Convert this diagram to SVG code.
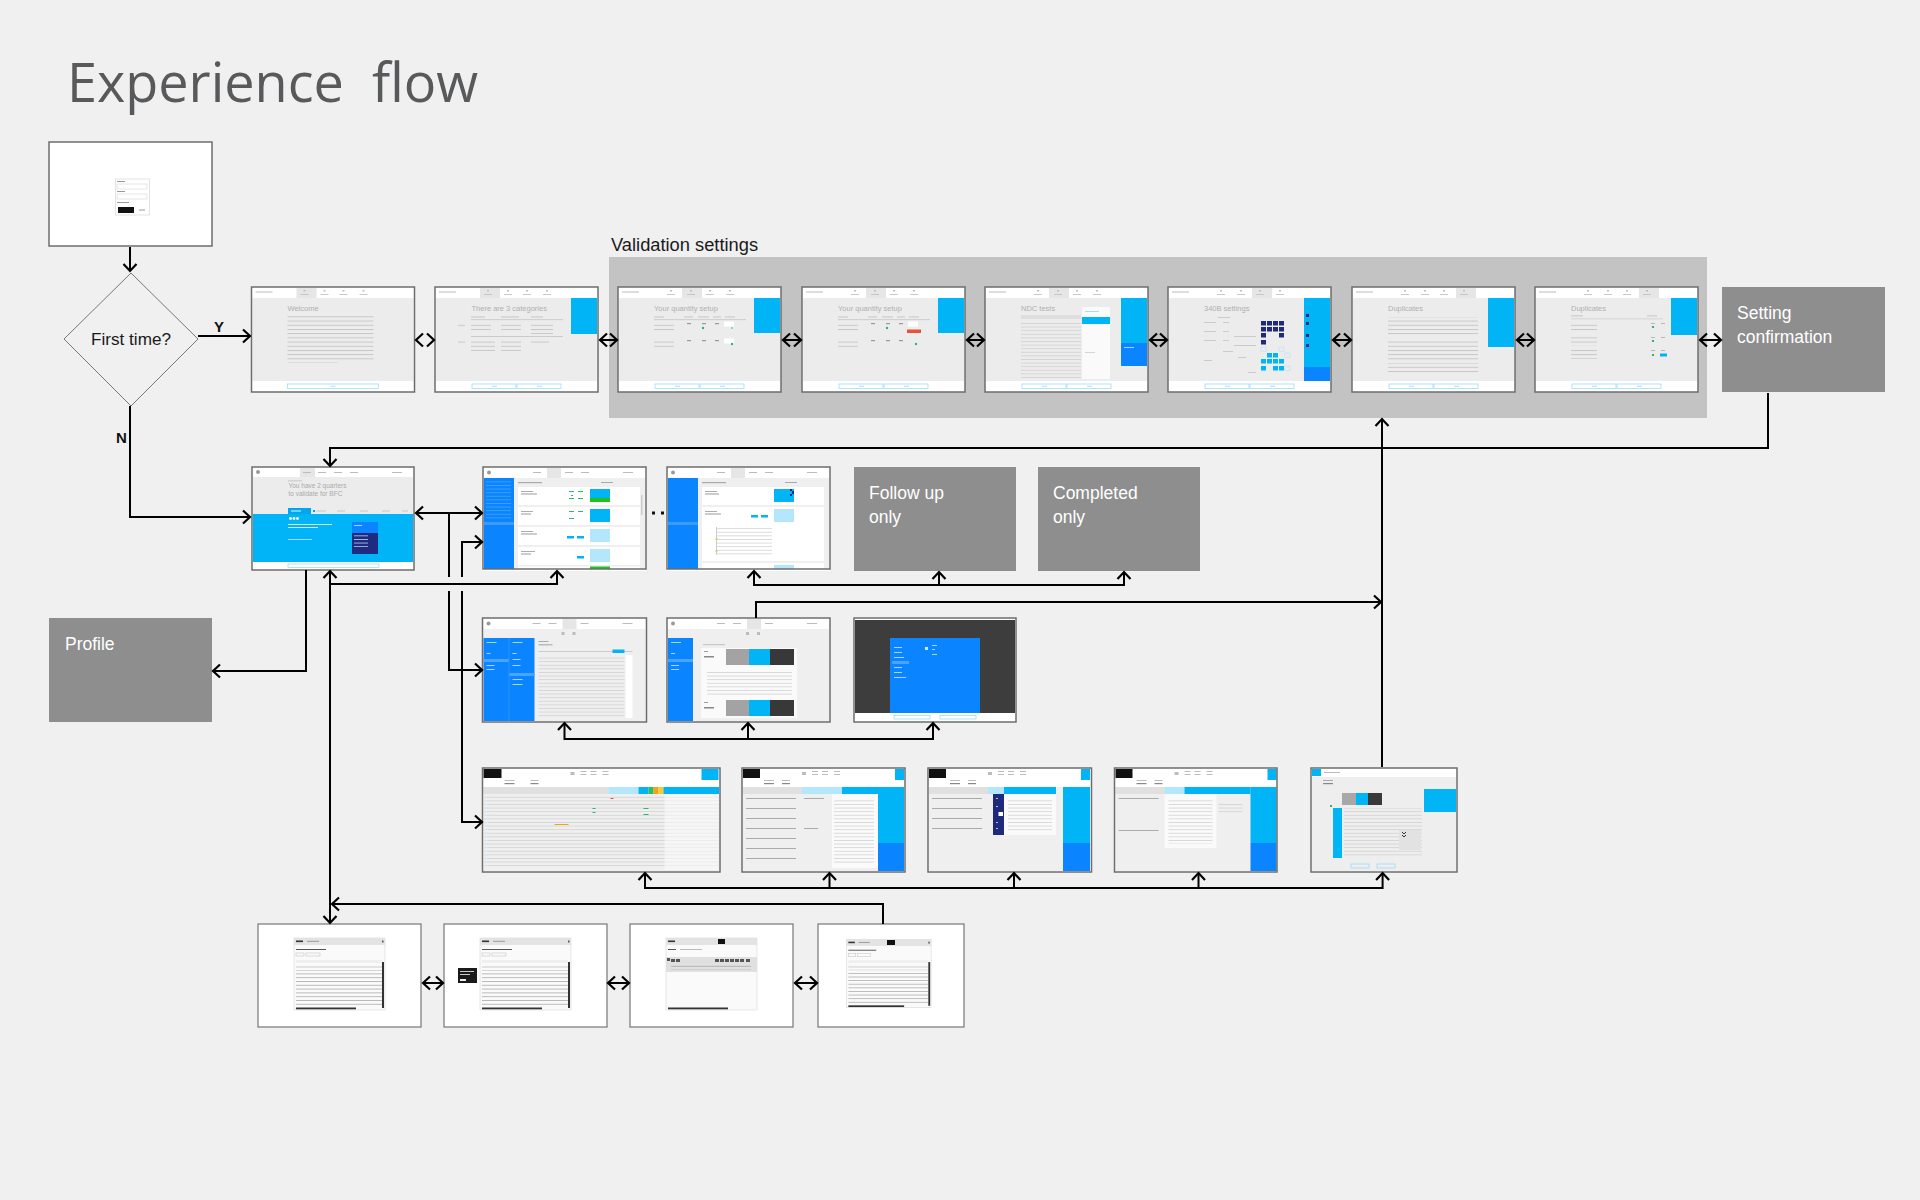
<svg xmlns="http://www.w3.org/2000/svg" xmlns:xlink="http://www.w3.org/1999/xlink" width="1920" height="1200" viewBox="0 0 1920 1200">
<style>
.fr{fill:none;stroke:#6d6d6d;stroke-width:1.5}
.wh{fill:#fff}
.bd{fill:#ececec}
.cy{fill:#00b4f5}
.bl{fill:#0a84ff}
.nv{fill:#1f2a7c}
.lc{fill:#b4e7fb}
.gr{fill:#c4c4c4}
.dk{fill:#3a3a3a}
.gb{fill:#8e8e8e}
.th{font-family:"Liberation Sans",Arial,sans-serif;font-size:7.5px;fill:#b0b0b0}
.gt{font-family:"Liberation Sans",Arial,sans-serif;font-size:17.5px;fill:#fff}
.t17{font-family:"Liberation Sans",Arial,sans-serif;font-size:17px;fill:#1a1a1a}
.lb{font-family:"Liberation Sans",Arial,sans-serif;font-size:15px;font-weight:bold;fill:#111}
.ln{fill:none;stroke:#000;stroke-width:2;marker-end:url(#ah)}
.dbl{fill:none;stroke:#000;stroke-width:2;marker-start:url(#ah);marker-end:url(#ah)}
.pl{fill:none;stroke:#000;stroke-width:2}
.btn{fill:none;stroke:#8ed9f7;stroke-width:0.7}
</style>
<defs>
<marker id="ah" viewBox="-9 -8 11 16" refX="0" refY="0" markerWidth="11" markerHeight="16" markerUnits="userSpaceOnUse" orient="auto-start-reverse"><path d="M-7,-6.5 L0,0 L-7,6.5" fill="none" stroke="#000" stroke-width="2.2"/></marker>
<pattern id="tx" width="200" height="4.2" patternUnits="userSpaceOnUse"><rect width="200" height="0.9" fill="#c4c4c4"/></pattern>
<pattern id="tr" width="200" height="3.6" patternUnits="userSpaceOnUse"><rect width="200" height="0.7" fill="#cdcdcd"/></pattern>
<pattern id="tw" width="200" height="3.6" patternUnits="userSpaceOnUse"><rect width="200" height="0.7" fill="#cfeaff"/></pattern>
<pattern id="td" width="200" height="3.8" patternUnits="userSpaceOnUse"><rect width="200" height="0.7" fill="#a0a0a0"/></pattern>
<g id="wbg"><rect width="163" height="105" class="wh"/><rect x="1" y="11" width="161" height="83" class="bd"/><rect x="4" y="4.5" width="17" height="1" fill="#bcbcbc"/></g>
<g id="wtabs" fill="#bdbdbd"><rect x="52" y="3" width="2" height="1.5"/><rect x="49" y="7" width="8" height="0.8"/><rect x="72" y="3" width="2" height="1.5"/><rect x="69" y="7" width="8" height="0.8"/><rect x="91" y="3" width="2" height="1.5"/><rect x="88" y="7" width="8" height="0.8"/><rect x="111" y="3" width="2" height="1.5"/><rect x="108" y="7" width="8" height="0.8"/></g>
<g id="fb1"><rect x="36" y="97" width="91" height="4.5" class="btn"/><rect x="79" y="98.8" width="5" height="0.8" fill="#8ed9f7"/></g>
<g id="fb2"><rect x="37" y="97" width="44" height="4.5" class="btn"/><rect x="82" y="97" width="44" height="4.5" class="btn"/><rect x="57" y="98.8" width="5" height="0.8" fill="#8ed9f7"/><rect x="102" y="98.8" width="5" height="0.8" fill="#8ed9f7"/></g>
<g id="apphdr"><rect width="163" height="104" class="wh"/><circle cx="6" cy="5.5" r="2" fill="#9a9a9a"/><g fill="#bcbcbc"><rect x="50" y="5" width="8" height="1"/><rect x="66" y="5" width="8" height="1"/><rect x="82" y="5" width="8" height="1"/><rect x="98" y="5" width="8" height="1"/><rect x="140" y="5" width="10" height="1"/></g></g>
<g id="r4hdr"><rect width="163" height="104" class="wh"/><rect x="1" y="1" width="17" height="9" fill="#111"/><g fill="#bcbcbc"><rect x="60" y="4" width="4" height="3"/><rect x="70" y="3" width="6" height="1"/><rect x="70" y="6" width="6" height="1"/><rect x="80" y="3" width="6" height="1"/><rect x="80" y="6" width="6" height="1"/><rect x="92" y="3" width="6" height="1"/><rect x="92" y="6" width="6" height="1"/><rect x="22" y="12" width="10" height="1"/><rect x="22" y="15" width="10" height="1.2" fill="#888"/><rect x="40" y="12" width="8" height="1"/><rect x="40" y="15" width="8" height="1.2" fill="#888"/></g><rect x="1" y="19" width="161" height="84" fill="#efefef"/></g>
<g id="upwin"><rect x="36" y="14" width="91" height="72" fill="#fafafa" stroke="#d6d6d6" stroke-width="0.6"/><rect x="36" y="14" width="91" height="7" fill="#e3e3e3"/><rect x="38" y="16.5" width="7" height="1.6" fill="#333"/><rect x="49" y="16.8" width="12" height="1" fill="#999"/><rect x="124" y="16.5" width="1.5" height="2" fill="#555"/><rect x="38" y="25" width="30" height="1" fill="#555"/><rect x="38" y="29" width="8" height="3" fill="none" stroke="#bbb" stroke-width="0.5"/><rect x="48" y="29" width="14" height="3" fill="none" stroke="#bbb" stroke-width="0.5"/><rect x="38" y="36" width="86" height="3" fill="#efefef"/><rect x="38" y="42" width="86" height="2" fill="#e2e2e2"/><rect x="38" y="46" width="86" height="36" fill="url(#td)"/><rect x="124" y="38" width="2" height="46" fill="#333"/><rect x="38" y="83.5" width="60" height="1.8" fill="#333"/></g>
</defs>
<rect width="1920" height="1200" fill="#f0f0f0"/>
<text x="67" y="102" font-family="'Open Sans','Noto Sans',sans-serif" font-size="54" fill="#58595b" style="white-space:pre" textLength="411" lengthAdjust="spacingAndGlyphs">Experience  flow</text>

<g id="validation-settings"><rect x="609" y="257" width="1098" height="161" fill="#c3c3c3"/><text x="611" y="251" class="t17" style="font-size:18.3px">Validation settings</text></g>

<g id="login"><rect x="49" y="142" width="163" height="104" class="wh"/><rect x="115.5" y="179" width="34" height="36" fill="#fff" stroke="#d0d0d0" stroke-width="0.6"/><rect x="117" y="181" width="8" height="1" fill="#999"/><rect x="117" y="184" width="30" height="5" fill="none" stroke="#ccc" stroke-width="0.5"/><rect x="117" y="191" width="8" height="1" fill="#999"/><rect x="117" y="194" width="30" height="5" fill="none" stroke="#ccc" stroke-width="0.5"/><rect x="117" y="202" width="12" height="1" fill="#999"/><rect x="118" y="207" width="16" height="6" fill="#111"/><rect x="139" y="209.5" width="6" height="1" fill="#999"/><rect x="49" y="142" width="163" height="104" class="fr"/></g>

<g id="first-time"><polygon points="131,273 198,339 131,406 64,339" fill="#f0f0f0" stroke="#777" stroke-width="1"/><text x="131" y="345" text-anchor="middle" class="t17" textLength="80" lengthAdjust="spacingAndGlyphs">First time?</text></g>

<g id="welcome" transform="translate(251.5,287)"><use href="#wbg"/><rect x="45" y="1" width="20" height="10" fill="#e6e6e6"/><use href="#wtabs"/><text x="36" y="24" class="th">Welcome</text><rect x="36" y="29" width="86" height="44" fill="url(#tx)"/><rect x="36" y="73" width="50" height="3" fill="url(#tx)"/><use href="#fb1"/><rect width="163" height="105" class="fr"/></g>

<g id="categories" transform="translate(435,287)"><use href="#wbg"/><rect x="45" y="1" width="20" height="10" fill="#e6e6e6"/><use href="#wtabs"/><rect x="136" y="11" width="26" height="36" class="cy"/><text x="36.5" y="24" class="th">There are 3 categories</text><g class="gr"><rect x="36" y="29.5" width="14" height="0.9"/><rect x="66" y="29.5" width="18" height="0.9"/><rect x="96" y="29.5" width="12" height="0.9"/></g><rect x="36" y="32.5" width="92" height="0.6" fill="#b5b5b5"/><rect x="23" y="35" width="7" height="6" fill="url(#tx)"/><rect x="36" y="35" width="20" height="8" fill="url(#tx)"/><rect x="66" y="35" width="20" height="8" fill="url(#tx)"/><rect x="96" y="35" width="22" height="12" fill="url(#tx)"/><rect x="36" y="49" width="92" height="0.6" fill="#b5b5b5"/><rect x="23" y="52" width="7" height="6" fill="url(#tx)"/><rect x="36" y="52" width="24" height="12" fill="url(#tx)"/><rect x="66" y="52" width="20" height="12" fill="url(#tx)"/><rect x="96" y="52" width="18" height="4" fill="url(#tx)"/><use href="#fb2"/><rect width="163" height="105" class="fr"/></g>

<g id="quantity-setup-1" transform="translate(618,287)"><use href="#wbg"/><rect x="64" y="1" width="20" height="10" fill="#e6e6e6"/><use href="#wtabs"/><rect x="136" y="11" width="26" height="35" class="cy"/><text x="36" y="24" class="th">Your quantity setup</text><g class="gr"><rect x="36" y="29.5" width="10" height="0.9"/><rect x="66" y="29.5" width="9" height="0.9"/><rect x="80" y="29.5" width="11" height="0.9"/><rect x="95" y="29.5" width="8" height="0.9"/><rect x="107" y="29.5" width="10" height="0.9"/></g><rect x="36" y="32.5" width="92" height="0.6" fill="#b5b5b5"/><rect x="36" y="35" width="20" height="9" fill="url(#tx)"/><rect x="36" y="52" width="20" height="9" fill="url(#tx)"/><g fill="#999"><rect x="69" y="36" width="4" height="1.2"/><rect x="84" y="36" width="4" height="1.2"/><rect x="97" y="36" width="4" height="1.2"/><rect x="69" y="53" width="4" height="1.2"/><rect x="84" y="53" width="4" height="1.2"/><rect x="97" y="53" width="4" height="1.2"/></g><rect x="106" y="34.5" width="10" height="5" fill="#fff"/><rect x="106" y="51.5" width="10" height="5" fill="#fff"/><g fill="#2bb673"><circle cx="85" cy="41" r="1.2"/><circle cx="114" cy="57" r="1.2"/><circle cx="114" cy="41" r="0.8"/></g><use href="#fb2"/><rect width="163" height="105" class="fr"/></g>

<g id="quantity-setup-2" transform="translate(802,287)"><use href="#wbg"/><rect x="64" y="1" width="20" height="10" fill="#e6e6e6"/><use href="#wtabs"/><rect x="136" y="11" width="26" height="35" class="cy"/><text x="36" y="24" class="th">Your quantity setup</text><g class="gr"><rect x="36" y="29.5" width="10" height="0.9"/><rect x="66" y="29.5" width="9" height="0.9"/><rect x="80" y="29.5" width="11" height="0.9"/><rect x="95" y="29.5" width="8" height="0.9"/><rect x="107" y="29.5" width="10" height="0.9"/></g><rect x="36" y="32.5" width="92" height="0.6" fill="#b5b5b5"/><rect x="36" y="35" width="20" height="9" fill="url(#tx)"/><rect x="36" y="52" width="20" height="9" fill="url(#tx)"/><g fill="#999"><rect x="69" y="36" width="4" height="1.2"/><rect x="84" y="36" width="4" height="1.2"/><rect x="97" y="36" width="4" height="1.2"/><rect x="69" y="53" width="4" height="1.2"/><rect x="84" y="53" width="4" height="1.2"/><rect x="97" y="53" width="4" height="1.2"/></g><rect x="106" y="34.5" width="10" height="5" fill="#fff"/><rect x="105" y="42.5" width="14" height="3.5" fill="#e5533d"/><g fill="#2bb673"><circle cx="85" cy="41" r="1.2"/><circle cx="114" cy="57" r="1.2"/></g><use href="#fb2"/><rect width="163" height="105" class="fr"/></g>

<g id="ndc-tests" transform="translate(985,287)"><use href="#wbg"/><rect x="64" y="1" width="20" height="10" fill="#e6e6e6"/><use href="#wtabs"/><text x="36" y="24" class="th">NDC tests</text><rect x="36" y="28" width="60" height="4" fill="#dedede"/><rect x="36" y="34" width="60" height="58" fill="url(#tr)"/><rect x="97" y="20" width="28" height="72" fill="#fafafa"/><rect x="97" y="30" width="28" height="7" class="cy"/><rect x="100" y="24" width="14" height="0.8" fill="#8ed9f7"/><rect x="100" y="65" width="10" height="0.8" fill="#ccc"/><rect x="136" y="11" width="26" height="45" class="cy"/><rect x="136" y="56" width="26" height="23" class="bl"/><rect x="139" y="60" width="10" height="0.8" fill="#cfeaff"/><use href="#fb2"/><rect width="163" height="105" class="fr"/></g>

<g id="settings-340b" transform="translate(1168,287)"><use href="#wbg"/><rect x="84" y="1" width="20" height="10" fill="#e6e6e6"/><use href="#wtabs"/><text x="36" y="24" class="th">340B settings</text><g class="gr"><rect x="50" y="30" width="12" height="0.8"/><rect x="36" y="35" width="12" height="0.8"/><rect x="36" y="44" width="12" height="0.8"/><rect x="36" y="53" width="12" height="0.8"/><rect x="55" y="35" width="6" height="0.8"/><rect x="55" y="44" width="6" height="0.8"/><rect x="55" y="53" width="6" height="0.8"/><rect x="66" y="49" width="22" height="0.8"/><rect x="66" y="58" width="22" height="0.8"/><rect x="55" y="64" width="10" height="0.8"/><rect x="70" y="70" width="8" height="0.8"/><rect x="80" y="85" width="8" height="0.8"/><rect x="36" y="73" width="8" height="0.8"/></g><g class="nv"><rect x="93" y="34" width="5" height="4.5"/><rect x="99" y="34" width="5" height="4.5"/><rect x="105" y="34" width="5" height="4.5"/><rect x="111" y="34" width="5" height="4.5"/><rect x="93" y="40" width="5" height="4.5"/><rect x="99" y="40" width="5" height="4.5"/><rect x="105" y="40" width="5" height="4.5"/><rect x="111" y="40" width="5" height="4.5"/><rect x="93" y="46" width="5" height="4.5"/><rect x="111" y="46" width="5" height="4.5"/><rect x="93" y="53" width="5" height="4.5"/></g><g class="cy"><rect x="99" y="66" width="5" height="4.5"/><rect x="105" y="66" width="5" height="4.5"/><rect x="93" y="72" width="5" height="4.5"/><rect x="99" y="72" width="5" height="4.5"/><rect x="105" y="72" width="5" height="4.5"/><rect x="111" y="72" width="5" height="4.5"/><rect x="93" y="79" width="5" height="4.5"/><rect x="105" y="79" width="5" height="4.5"/><rect x="111" y="79" width="5" height="4.5"/></g><g fill="none" stroke="#9fdcf5" stroke-width="0.4"><rect x="93" y="60" width="5" height="4.5"/><rect x="111" y="60" width="5" height="4.5"/><rect x="117" y="66" width="5" height="4.5"/><rect x="117" y="79" width="5" height="4.5"/></g><rect x="136" y="11" width="26" height="69" class="cy"/><rect x="136" y="80" width="26" height="14" class="bl"/><g class="nv"><rect x="138" y="27" width="3" height="3"/><rect x="138" y="35" width="3" height="3"/><rect x="138" y="47" width="3" height="3"/><rect x="138" y="57" width="3" height="3"/></g><use href="#fb2"/><rect width="163" height="105" class="fr"/></g>

<g id="duplicates-1" transform="translate(1352,287)"><use href="#wbg"/><rect x="104" y="1" width="20" height="10" fill="#e6e6e6"/><use href="#wtabs"/><rect x="136" y="11" width="26" height="49" class="cy"/><text x="36" y="24" class="th">Duplicates</text><rect x="36" y="30" width="90" height="18" fill="url(#tx)"/><rect x="36" y="52" width="90" height="8" fill="url(#tx)"/><rect x="36" y="63" width="90" height="10" fill="url(#tx)"/><rect x="36" y="76" width="90" height="10" fill="url(#tx)"/><use href="#fb2"/><rect width="163" height="105" class="fr"/></g>

<g id="duplicates-2" transform="translate(1535,287)"><use href="#wbg"/><rect x="104" y="1" width="20" height="10" fill="#e6e6e6"/><use href="#wtabs"/><rect x="136" y="11" width="26" height="37" class="cy"/><text x="36" y="24" class="th">Duplicates</text><rect x="36" y="28.5" width="12" height="0.8" fill="#bbb"/><rect x="112" y="28.5" width="10" height="0.8" fill="#bbb"/><rect x="36" y="31" width="92" height="1.5" fill="#dcdcdc"/><rect x="36" y="35" width="26" height="10" fill="url(#tx)"/><rect x="36" y="49" width="26" height="10" fill="url(#tx)"/><rect x="36" y="62" width="26" height="10" fill="url(#tx)"/><g fill="#aaa"><rect x="116" y="36" width="4" height="0.8"/><rect x="126" y="36" width="4" height="0.8"/><rect x="116" y="50" width="4" height="0.8"/><rect x="126" y="50" width="4" height="0.8"/><rect x="116" y="63" width="4" height="0.8"/><rect x="126" y="63" width="4" height="0.8"/></g><g fill="#2bb673"><rect x="117" y="39" width="2" height="2"/><rect x="117" y="53" width="2" height="2"/><rect x="117" y="67" width="2" height="2"/></g><rect x="125" y="66.5" width="7" height="3" class="cy"/><use href="#fb2"/><rect width="163" height="105" class="fr"/></g>

<g id="setting-confirmation"><rect x="1722" y="287" width="163" height="105" class="gb"/><text x="1737" y="319" class="gt">Setting</text><text x="1737" y="343" class="gt">confirmation</text></g>

<g id="dashboard" transform="translate(252,467)"><rect width="162" height="103" class="wh"/><rect x="1" y="10" width="160" height="37" class="bd"/><rect x="1" y="47" width="160" height="48" fill="#00b4f7"/><rect x="48" y="1" width="15" height="9" fill="#e6e6e6"/><circle cx="6" cy="5" r="2" fill="#9a9a9a"/><g fill="#bcbcbc"><rect x="51" y="5" width="8" height="1"/><rect x="66" y="5" width="8" height="1"/><rect x="82" y="5" width="8" height="1"/><rect x="98" y="5" width="8" height="1"/><rect x="140" y="5" width="10" height="1"/><rect x="36" y="13.5" width="14" height="0.8"/></g><text x="36.5" y="21" font-family="Liberation Sans,Arial,sans-serif" font-size="6.5" fill="#aaa">You have 2 quarters</text><text x="36.5" y="28.5" font-family="Liberation Sans,Arial,sans-serif" font-size="6.5" fill="#aaa">to validate for BFC</text><rect x="36" y="41" width="23" height="6" fill="#00a6ee"/><g fill="#c8c8c8"><rect x="64" y="43.5" width="10" height="1"/><rect x="85" y="43.5" width="8" height="1"/><rect x="108" y="43.5" width="8" height="1"/><rect x="130" y="43.5" width="8" height="1"/><rect x="150" y="43.5" width="6" height="1"/></g><rect x="39" y="43.5" width="10" height="1" fill="#e6f7ff"/><rect x="61" y="43" width="2" height="2" fill="#00a6ee"/><g fill="#fff"><circle cx="38.5" cy="51.5" r="1.4"/><circle cx="42" cy="51.5" r="1.4"/><circle cx="45.5" cy="51.5" r="1.4"/><rect x="36" y="57" width="44" height="0.8"/><rect x="36" y="60" width="30" height="0.8"/><rect x="36" y="72" width="24" height="0.6"/></g><rect x="100" y="55" width="26" height="11" fill="#0a84ff"/><rect x="100" y="66" width="26" height="21" fill="#1e2b80"/><rect x="102" y="68" width="14" height="12" fill="url(#tw)"/><rect x="102" y="58" width="8" height="0.8" fill="#cfeaff"/><rect x="36" y="97" width="91" height="3.5" class="btn"/><rect width="162" height="103" class="fr"/></g>

<g id="worklist" transform="translate(483,467)"><use href="#apphdr"/><rect x="64" y="1" width="14" height="10" fill="#e6e6e6"/><rect x="31" y="11" width="131" height="91" fill="#efefef"/><rect x="1" y="11" width="30" height="91" class="bl"/><rect x="1" y="55" width="30" height="3" fill="#3d9bff"/><rect x="3" y="14" width="25" height="38" fill="url(#tw)" opacity="0.35"/><rect x="35" y="15" width="24" height="1.2" fill="#aaa"/><rect x="118" y="15" width="12" height="1" fill="#aaa"/><rect x="158" y="28" width="1.5" height="20" fill="#ccc"/><g class="wh"><rect x="35" y="20" width="122" height="18"/><rect x="35" y="40" width="122" height="18"/><rect x="35" y="60" width="122" height="18"/><rect x="35" y="80" width="122" height="18"/><rect x="35" y="99.5" width="122" height="2.5"/></g><g fill="#999"><rect x="38" y="24" width="12" height="0.8"/><rect x="38" y="26.5" width="16" height="1"/><rect x="38" y="44" width="12" height="0.8"/><rect x="38" y="46.5" width="10" height="1"/><rect x="38" y="64" width="12" height="0.8"/><rect x="38" y="66.5" width="16" height="1"/><rect x="38" y="84" width="14" height="0.8"/><rect x="38" y="86.5" width="10" height="1"/></g><g fill="#2bb673"><rect x="86" y="24" width="5" height="1"/><rect x="95" y="24" width="5" height="1"/><rect x="88" y="28" width="2" height="1"/><rect x="86" y="31" width="5" height="1"/><rect x="95" y="31" width="5" height="1"/><rect x="86" y="44" width="5" height="1"/><rect x="95" y="44" width="5" height="1"/><rect x="86" y="51" width="5" height="1"/></g><rect x="107" y="22" width="20" height="13" class="cy"/><rect x="107" y="31" width="20" height="4" fill="#1ec31e"/><rect x="107" y="42" width="20" height="13" class="cy"/><rect x="107" y="62" width="20" height="13" class="lc"/><rect x="84" y="69" width="7" height="2.5" class="cy"/><rect x="94" y="69" width="7" height="2.5" class="cy"/><rect x="107" y="82" width="20" height="13" class="lc"/><rect x="94" y="89" width="7" height="2.5" class="cy"/><rect x="107" y="99.5" width="20" height="2.5" fill="#1ec31e"/><rect width="163" height="102" class="fr"/></g>

<g id="worklist-detail" transform="translate(667,467)"><use href="#apphdr"/><rect x="64" y="1" width="14" height="10" fill="#e6e6e6"/><rect x="31" y="11" width="131" height="91" fill="#efefef"/><rect x="1" y="11" width="30" height="91" class="bl"/><rect x="1" y="55" width="30" height="3" fill="#3d9bff"/><rect x="35" y="15" width="24" height="1.2" fill="#aaa"/><rect x="118" y="15" width="12" height="1" fill="#aaa"/><g class="wh"><rect x="35" y="20" width="122" height="18"/><rect x="35" y="40" width="122" height="54"/><rect x="35" y="96" width="122" height="6"/></g><g fill="#999"><rect x="38" y="24" width="12" height="0.8"/><rect x="38" y="26.5" width="14" height="1"/><rect x="38" y="44" width="12" height="0.8"/><rect x="38" y="46.5" width="16" height="1"/></g><rect x="107" y="22" width="20" height="13" class="cy"/><g fill="#1f2a7c"><rect x="123" y="22" width="2" height="2"/><rect x="125" y="24" width="2" height="3"/><rect x="123" y="27" width="2" height="2"/></g><rect x="107" y="42" width="20" height="13" class="lc"/><rect x="84" y="48" width="7" height="2.5" class="cy"/><rect x="94" y="48" width="7" height="2.5" class="cy"/><rect x="50" y="60" width="55" height="28" fill="url(#tr)"/><rect x="49" y="60" width="1" height="28" fill="#ccc"/><g fill="#c8d96b"><circle cx="49.5" cy="72" r="1.2"/><circle cx="49.5" cy="84" r="1.2"/></g><rect x="107" y="98" width="20" height="4" class="lc"/><rect width="163" height="102" class="fr"/></g>

<g id="follow-up-only"><rect x="854" y="467" width="162" height="104" class="gb"/><text x="869" y="499" class="gt">Follow up</text><text x="869" y="523" class="gt">only</text></g>
<g id="completed-only"><rect x="1038" y="467" width="162" height="104" class="gb"/><text x="1053" y="499" class="gt">Completed</text><text x="1053" y="523" class="gt">only</text></g>
<g id="profile"><rect x="49" y="618" width="163" height="104" class="gb"/><text x="65" y="650" class="gt">Profile</text></g>

<g id="reports-list" transform="translate(482.5,618)"><use href="#apphdr"/><rect x="80" y="1" width="14" height="10" fill="#e6e6e6"/><rect x="1" y="11" width="162" height="92" fill="#efefef"/><g fill="#bbb"><rect x="79" y="14" width="3" height="3"/><rect x="90" y="14" width="3" height="3"/></g><rect x="1" y="20" width="51" height="83" class="bl"/><rect x="26" y="20" width="1" height="83" fill="#2a93ff"/><rect x="1" y="41" width="25" height="3" fill="#4aa5ff"/><rect x="27" y="55" width="25" height="3" fill="#4aa5ff"/><g fill="#cfeaff"><rect x="4" y="24" width="10" height="0.8"/><rect x="30" y="24" width="10" height="0.8"/><rect x="4" y="35" width="4" height="0.8"/><rect x="4" y="47" width="8" height="0.8"/><rect x="4" y="51" width="8" height="0.8"/><rect x="30" y="35" width="4" height="0.8"/><rect x="30" y="41" width="8" height="0.8"/><rect x="30" y="47" width="8" height="0.8"/><rect x="30" y="61" width="10" height="0.8"/><rect x="30" y="66" width="10" height="0.8"/></g><rect x="56" y="23" width="10" height="0.8" fill="#999"/><rect x="56" y="26" width="14" height="1.5" fill="#bbb"/><rect x="56" y="33" width="94" height="1" fill="#ccc"/><rect x="130" y="31.5" width="12" height="3.5" class="cy"/><rect x="56" y="37" width="86" height="63" fill="url(#tr)"/><rect x="143" y="37" width="7" height="63" fill="#fff"/><rect width="164" height="104" class="fr"/></g>

<g id="reports-detail" transform="translate(667,618)"><use href="#apphdr"/><rect x="80" y="1" width="14" height="10" fill="#e6e6e6"/><rect x="1" y="11" width="161" height="92" fill="#efefef"/><g fill="#bbb"><rect x="79" y="14" width="3" height="3"/><rect x="90" y="14" width="3" height="3"/></g><rect x="1" y="20" width="25" height="83" class="bl"/><rect x="1" y="41" width="25" height="3" fill="#4aa5ff"/><g fill="#cfeaff"><rect x="4" y="24" width="10" height="0.8"/><rect x="4" y="35" width="4" height="0.8"/><rect x="4" y="47" width="8" height="0.8"/><rect x="4" y="51" width="8" height="0.8"/></g><rect x="36" y="26" width="22" height="1.2" fill="#c8c8c8"/><rect x="34" y="30" width="96" height="70" fill="#fafafa"/><g fill="#888"><rect x="37" y="33" width="4" height="0.8"/><rect x="37" y="38" width="10" height="1.5"/><rect x="37" y="84" width="4" height="0.8"/><rect x="37" y="89" width="10" height="1.5"/></g><rect x="59" y="31" width="23" height="16" fill="#a3a3a3"/><rect x="82" y="31" width="21" height="16" class="cy"/><rect x="103" y="31" width="24" height="16" fill="#383838"/><rect x="59" y="82" width="23" height="16" fill="#a3a3a3"/><rect x="82" y="82" width="21" height="16" class="cy"/><rect x="103" y="82" width="24" height="16" fill="#383838"/><rect x="40" y="52" width="85" height="26" fill="url(#tr)"/><rect width="163" height="104" class="fr"/></g>

<g id="report-filter" transform="translate(854,618)"><rect width="162" height="104" class="wh"/><rect x="1" y="2" width="160" height="93" fill="#3d3d3d"/><rect x="36" y="20" width="90" height="75" class="bl"/><g fill="#cfeaff"><rect x="40" y="29" width="8" height="0.8"/><rect x="40" y="34" width="8" height="0.8"/><rect x="40" y="39" width="10" height="0.8"/><rect x="40" y="49" width="8" height="0.8"/><rect x="40" y="54" width="8" height="0.8"/><rect x="40" y="59" width="12" height="0.8"/><rect x="78" y="27" width="5" height="0.8"/><rect x="78" y="31" width="3" height="0.8"/><rect x="78" y="36" width="5" height="0.8"/></g><rect x="38" y="43" width="17" height="3" fill="#4aa5ff"/><rect x="71" y="29" width="3" height="3" fill="#cfeaff"/><rect x="40" y="97.5" width="36" height="3.5" class="btn"/><rect x="86" y="97.5" width="36" height="3.5" class="btn"/><rect width="162" height="104" class="fr"/></g>

<g id="claims-table" transform="translate(482.5,768)"><rect width="237.5" height="104" class="wh"/><rect x="1" y="1" width="18" height="9" fill="#111"/><rect x="219" y="1" width="17" height="11" class="cy"/><g fill="#bbb"><rect x="88" y="4" width="4" height="3"/><rect x="98" y="3" width="6" height="1"/><rect x="98" y="6" width="6" height="1"/><rect x="108" y="3" width="6" height="1"/><rect x="108" y="6" width="6" height="1"/><rect x="120" y="3" width="6" height="1"/><rect x="120" y="6" width="6" height="1"/><rect x="22" y="12" width="10" height="1"/><rect x="48" y="12" width="8" height="1"/></g><g fill="#888"><rect x="22" y="15" width="10" height="1.2"/><rect x="48" y="15" width="8" height="1.2"/></g><rect x="1" y="19" width="235.5" height="84" fill="#efefef"/><rect x="1" y="19" width="125" height="7" fill="#e0e0e0"/><rect x="126" y="19" width="30" height="7" class="lc"/><rect x="156" y="19" width="10" height="7" class="cy"/><rect x="166" y="19" width="5" height="7" fill="#22c35e"/><rect x="171" y="19" width="5" height="7" fill="#f2a21b"/><rect x="176" y="19" width="5" height="7" fill="#f5cd2a"/><rect x="181" y="19" width="55.5" height="7" class="cy"/><rect x="2" y="28" width="234" height="72" fill="url(#tr)"/><rect x="3" y="28" width="3" height="72" fill="url(#tw)"/><rect x="182" y="26" width="54" height="76" fill="#fafafa" opacity="0.6"/><g fill="#2bb673"><rect x="110" y="40" width="3" height="1"/><rect x="110" y="44" width="3" height="1"/><rect x="161" y="40" width="5" height="1"/><rect x="161" y="46" width="5" height="1"/></g><rect x="72" y="56" width="14" height="1" fill="#f2a21b"/><rect x="128" y="30" width="3" height="1" fill="#e5533d"/><rect width="237.5" height="104" class="fr"/></g>

<g id="claim-notes" transform="translate(742,768)"><use href="#r4hdr"/><rect x="153" y="1" width="9" height="11" class="cy"/><rect x="1" y="19" width="59" height="7" fill="#e0e0e0"/><rect x="60" y="19" width="40" height="7" class="lc"/><rect x="100" y="19" width="36" height="7" class="cy"/><rect x="90" y="26" width="46" height="74" fill="#fafafa"/><rect x="136" y="19" width="26" height="56" class="cy"/><rect x="136" y="75" width="26" height="28" class="bl"/><g fill="#aaa"><rect x="4" y="30" width="50" height="1"/><rect x="4" y="40" width="50" height="1"/><rect x="4" y="50" width="50" height="1"/><rect x="4" y="60" width="50" height="1"/><rect x="4" y="70" width="50" height="1"/><rect x="4" y="80" width="50" height="1"/><rect x="4" y="90" width="50" height="1"/><rect x="62" y="30" width="20" height="1"/><rect x="62" y="60" width="14" height="1"/></g><rect x="92" y="30" width="40" height="66" fill="url(#tr)"/><rect width="163" height="104" class="fr"/></g>

<g id="claim-codes" transform="translate(928,768)"><use href="#r4hdr"/><rect x="153" y="1" width="9" height="11" class="cy"/><rect x="1" y="19" width="59" height="7" fill="#e0e0e0"/><rect x="60" y="19" width="16" height="7" class="lc"/><rect x="76" y="19" width="52" height="7" class="cy"/><rect x="76" y="26" width="52" height="41" fill="#fafafa"/><rect x="65" y="26" width="11" height="41" class="nv"/><rect x="70.5" y="44" width="4.5" height="4" fill="#fff"/><g fill="#cfeaff"><rect x="68" y="30" width="2" height="0.8"/><rect x="68" y="38" width="2" height="0.8"/><rect x="68" y="54" width="2" height="0.8"/><rect x="68" y="60" width="2" height="0.8"/></g><rect x="135" y="19" width="27" height="56" class="cy"/><rect x="135" y="75" width="27" height="28" class="bl"/><g fill="#aaa"><rect x="4" y="30" width="50" height="1"/><rect x="4" y="40" width="50" height="1"/><rect x="4" y="50" width="50" height="1"/><rect x="4" y="60" width="50" height="1"/></g><rect x="80" y="30" width="44" height="34" fill="url(#tr)"/><rect width="163.5" height="104" class="fr"/></g>

<g id="claim-review" transform="translate(1114.5,768)"><use href="#r4hdr"/><rect x="153" y="1" width="9" height="11" class="cy"/><rect x="1" y="19" width="49" height="7" fill="#e0e0e0"/><rect x="50" y="19" width="20" height="7" class="lc"/><rect x="70" y="19" width="66" height="7" class="cy"/><rect x="50" y="26" width="52" height="54" fill="#fafafa"/><rect x="136" y="19" width="26" height="56" class="cy"/><rect x="136" y="75" width="26" height="28" class="bl"/><g fill="#aaa"><rect x="4" y="30" width="40" height="1"/><rect x="4" y="62" width="40" height="1"/><rect x="104" y="34" width="24" height="12" fill="url(#tr)"/></g><rect x="54" y="30" width="44" height="46" fill="url(#tr)"/><rect width="162.5" height="104" class="fr"/></g>

<g id="claim-summary" transform="translate(1311,768)"><rect width="146" height="104" class="wh"/><rect x="1" y="1" width="9" height="7" class="cy"/><rect x="13" y="4" width="16" height="1" fill="#bbb"/><rect x="1" y="9" width="144" height="94" fill="#eeeeee"/><rect x="12" y="12" width="10" height="1" fill="#aaa"/><rect x="12" y="15" width="10" height="1.2" fill="#888"/><rect x="31" y="25" width="14" height="12" fill="#a8a8a8"/><rect x="45" y="25" width="12" height="12" class="cy"/><rect x="57" y="25" width="14" height="12" fill="#3a3a3a"/><rect x="113" y="21" width="32" height="23" class="cy"/><rect x="22" y="40" width="9" height="50" class="cy"/><rect x="19" y="37" width="2" height="2" fill="#2bb673"/><rect x="33" y="40" width="78" height="48" fill="url(#tr)"/><rect x="88" y="62" width="22" height="20" fill="#e2e2e2"/><path d="M91,64 l2,2 l2,-2 M91,67 l2,2 l2,-2" fill="none" stroke="#333" stroke-width="1"/><rect x="40" y="96" width="18" height="4" class="btn"/><rect x="66" y="96" width="18" height="4" class="btn"/><rect width="146" height="104" class="fr"/></g>

<g id="upload-step-1" transform="translate(258,924)"><rect width="163" height="103" class="wh"/><use href="#upwin"/><rect width="163" height="103" fill="none" stroke="#777" stroke-width="1.2"/></g>
<g id="upload-step-2" transform="translate(444,924)"><rect width="163" height="103" class="wh"/><use href="#upwin"/><rect x="14" y="44" width="19" height="15" fill="#1a1a1a"/><rect x="16" y="47" width="14" height="1" fill="#ccc"/><rect x="16" y="50" width="10" height="1" fill="#ccc"/><rect x="16" y="55" width="6" height="2" fill="#eee"/><rect width="163" height="103" fill="none" stroke="#777" stroke-width="1.2"/></g>
<g id="upload-step-3" transform="translate(630,924)"><rect width="163" height="103" class="wh"/><rect x="36" y="14" width="91" height="72" fill="#fafafa" stroke="#d6d6d6" stroke-width="0.6"/><rect x="36" y="14" width="91" height="7" fill="#e3e3e3"/><rect x="38" y="16.5" width="7" height="1.6" fill="#333"/><rect x="88" y="15" width="7" height="5" fill="#111"/><rect x="38" y="25" width="8" height="1" fill="#555"/><rect x="50" y="25" width="22" height="1" fill="#bbb"/><rect x="36" y="33" width="91" height="15" fill="#e0e0e0"/><g fill="#555"><rect x="37" y="34" width="3" height="3"/><rect x="41" y="35" width="4" height="3"/><rect x="46" y="35" width="4" height="3"/><rect x="85" y="35" width="4" height="3"/><rect x="90" y="35" width="4" height="3"/><rect x="95" y="35" width="4" height="3"/><rect x="100" y="35" width="4" height="3"/><rect x="105" y="35" width="4" height="3"/><rect x="110" y="35" width="4" height="3"/><rect x="116" y="35" width="4" height="3"/></g><rect x="41" y="40" width="80" height="6" fill="url(#td)"/><rect x="38" y="83.5" width="60" height="1.8" fill="#333"/><rect width="163" height="103" fill="none" stroke="#777" stroke-width="1.2"/></g>
<g id="upload-step-4" transform="translate(818,924)"><rect width="146" height="103" class="wh"/><g transform="translate(-5,2) scale(0.93,0.95)"><use href="#upwin"/></g><rect x="69" y="16" width="8" height="5" fill="#111"/><rect width="146" height="103" fill="none" stroke="#777" stroke-width="1.2"/></g>

<g id="connectors">
<path class="ln" d="M130,247 V271"/>
<path class="ln" d="M198,336 H250"/>
<path class="ln" d="M130,406 V517 H250"/>
<path d="M416,340 H434" fill="none" stroke="none" style="marker-start:url(#ah);marker-end:url(#ah)"/>
<path class="dbl" d="M600,340 H617"/>
<path class="dbl" d="M783,340 H801"/>
<path class="dbl" d="M967,340 H984"/>
<path class="dbl" d="M1150,340 H1167"/>
<path class="dbl" d="M1333,340 H1351"/>
<path class="dbl" d="M1517,340 H1534"/>
<path class="dbl" d="M1700,340 H1721"/>
<path class="ln" d="M1768,393 V448 H330 V466"/>
<path class="ln" d="M1382,767 V419"/>
<path class="dbl" d="M416,513 H482"/>
<path class="ln" d="M449,513 V577 M449,591 V670 H482"/>
<path class="dbl" d="M482,542 H462 V577 M462,591 V822 H482"/>
<path class="dbl" d="M330,571 V923"/>
<path class="ln" d="M330,584 H557 V571"/>
<path class="ln" d="M306,570 V671 H213"/>
<path class="dbl" d="M754,571 V585 H1124 V572"/>
<path class="ln" d="M939,585 V572"/>
<path class="dbl" d="M564.5,723 V739 H933 V723"/>
<path class="ln" d="M748,739 V723"/>
<path class="ln" d="M756,618 V602 H1381"/>
<path class="dbl" d="M645,873 V888 H1382.6 V873"/>
<path class="ln" d="M829.5,888 V873"/>
<path class="ln" d="M1014,888 V873"/>
<path class="ln" d="M1198.5,888 V873"/>
<path class="ln" d="M883,924 V904 H332"/>
<path class="dbl" d="M423,983 H443"/>
<path class="dbl" d="M608,983 H629"/>
<path class="dbl" d="M795,983 H817"/>
<text x="214" y="332" class="lb">Y</text>
<text x="116" y="443" class="lb">N</text>
<g fill="#111"><rect x="652" y="511.5" width="3" height="3"/><rect x="661" y="511.5" width="3" height="3"/></g>
</g>
</svg>
